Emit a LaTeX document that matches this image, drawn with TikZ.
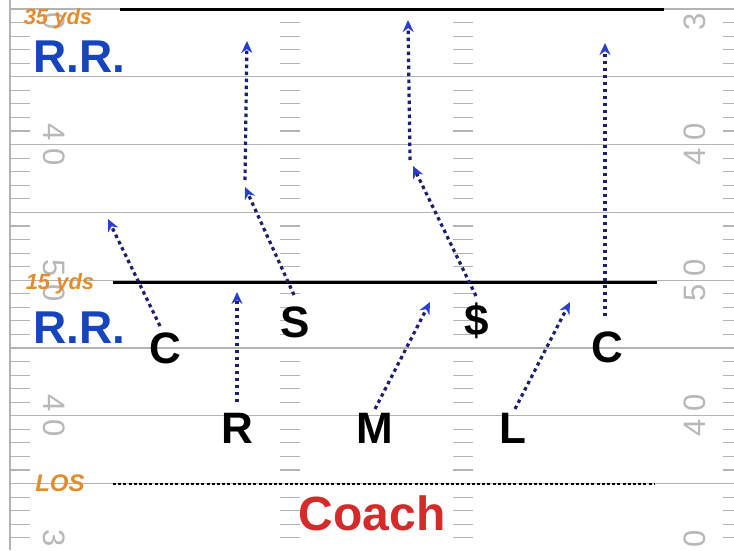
\documentclass[tikz,border=0pt]{standalone}
\usepackage{fontspec}
\setmainfont{Liberation Sans}
\usetikzlibrary{arrows.meta}
\definecolor{fieldgray}{HTML}{B4B4B4}
\definecolor{numgray}{HTML}{B8B8B8}
\definecolor{markorange}{HTML}{E38C2D}
\definecolor{rrblue}{HTML}{1644BE}
\definecolor{coachred}{HTML}{D32A2A}
\definecolor{routenavy}{HTML}{1E1E6E}
\definecolor{routeblue}{HTML}{2A3FD0}
\tikzset{
  yardline/.style={draw=fieldgray, line width=1.3pt},
  tick/.style={draw=fieldgray, line width=1.1pt},
  fieldnum/.style={text=numgray, font=\fontsize{31}{31}\selectfont, inner sep=0pt},
  yardmark/.style={text=markorange, font=\bfseries\itshape\fontsize{22}{22}\selectfont, inner sep=0pt},
  rrlabel/.style={text=rrblue, font=\bfseries\fontsize{46}{46}\selectfont, inner sep=0pt},
  player/.style={text=black, font=\bfseries\fontsize{44}{44}\selectfont, inner sep=0pt},
  yardbar/.style={draw=black, line width=3pt},
  route/.style={draw=routenavy, line width=3.2pt, dash pattern=on 3.5pt off 3.5pt,
    -{Stealth[length=12pt,width=11pt,color=routeblue]}}
}
\begin{document}
\begin{tikzpicture}[x=1pt,y=-1pt]
  \useasboundingbox (0,0) rectangle (734,550);
  \clip (0,0) rectangle (734,550);
  \fill[white] (0,0) rectangle (734,550);

  % sideline
  \draw[yardline] (10,0) -- (10,550);

  % yard lines every five yards, ticks every yard
  \foreach \k in {0,...,8} {
    \draw[yardline] (10,{9+67.8*\k}) -- (734,{9+67.8*\k});
  }
  \foreach \j in {-1,...,40} {
    \pgfmathtruncatemacro{\r}{mod(\j+5,5)}
    \ifnum\r=0\relax\else
      \pgfmathsetmacro{\yy}{9+13.56*\j}
      \draw[tick] (10,\yy) -- (30,\yy);
      \draw[tick] (280,\yy) -- (300,\yy);
      \draw[tick] (453,\yy) -- (473,\yy);
      \draw[tick] (723,\yy) -- (734,\yy);
    \fi
  }

  % field numbers, left side (read top to bottom)
  \node[fieldnum, rotate=-90] at (54,21.5) {0};
  \foreach \y/\a/\b in {144.6/4/0, 280.2/5/0, 415.8/4/0} {
    \node[fieldnum, rotate=-90] at (54,\y-12.5) {\a};
    \node[fieldnum, rotate=-90] at (54,\y+12.5) {\b};
  }
  \node[fieldnum, rotate=-90] at (54,538.5) {3};
  % field numbers, right side (read bottom to top)
  \node[fieldnum, rotate=90] at (695,21.5) {3};
  \foreach \y/\a/\b in {144.6/4/0, 280.2/5/0, 415.8/4/0} {
    \node[fieldnum, rotate=90] at (695,\y+12.5) {\a};
    \node[fieldnum, rotate=90] at (695,\y-12.5) {\b};
  }
  \node[fieldnum, rotate=90] at (695,538.5) {0};

  % distance bars
  \draw[yardbar] (120,9) -- (664,9);
  \draw[yardbar] (113,282) -- (657,282);
  \draw[draw=black, line width=2.4pt, dash pattern=on 3pt off 2.2pt] (113,484) -- (655,484);

  % margin labels
  \node[yardmark] (m35) at (58,19) {35 yds};
  \node[rrlabel] (rr1) at (79,57) {R.R.};
  \node[yardmark] (m15) at (60,284) {15 yds};
  \node[rrlabel] (rr2) at (79,328) {R.R.};
  \node[yardmark, font=\bfseries\itshape\fontsize{24}{24}\selectfont] (los) at (60,483) {LOS};
  \node[text=coachred, font=\bfseries\fontsize{48}{48}\selectfont, inner sep=0pt] (coach) at (372,513) {Coach};

  % players
  \node[player] (cl) at (165,348) {C};
  \node[player] (r)  at (237,428) {R};
  \node[player] (s)  at (295,322) {S};
  \node[player] (m)  at (375,428) {M};
  \node[player] (d)  at (477,321) {\$};
  \node[player] (l)  at (513,428) {L};
  \node[player] (cr) at (607,347) {C};

  % route points
  \coordinate (clTail) at (160,326);
  \coordinate (clEnd)  at (108,219);
  \coordinate (rTail)  at (237,402);
  \coordinate (rEnd)   at (237,292);
  \coordinate (sTail)  at (294,295);
  \coordinate (sBreak) at (245,187);
  \coordinate (sLeg)   at (245,180);
  \coordinate (sEnd)   at (247,41);
  \coordinate (mTail)  at (375,409);
  \coordinate (mEnd)   at (430,302);
  \coordinate (dTail)  at (476,296);
  \coordinate (dBreak) at (413,166);
  \coordinate (dLeg)   at (410,160);
  \coordinate (dEnd)   at (408,20);
  \coordinate (lTail)  at (515,409);
  \coordinate (lEnd)   at (570,302);
  \coordinate (crTail) at (605,316);
  \coordinate (crEnd)  at (605,43);

  % routes
  \draw[route] (clTail) -- (clEnd);
  \draw[route] (rTail) -- (rEnd);
  \draw[route] (sTail) -- (sBreak);
  \draw[route] (sLeg) -- (sEnd);
  \draw[route] (mTail) -- (mEnd);
  \draw[route] (dTail) -- (dBreak);
  \draw[route] (dLeg) -- (dEnd);
  \draw[route] (lTail) -- (lEnd);
  \draw[route] (crTail) -- (crEnd);
\end{tikzpicture}
\end{document}
